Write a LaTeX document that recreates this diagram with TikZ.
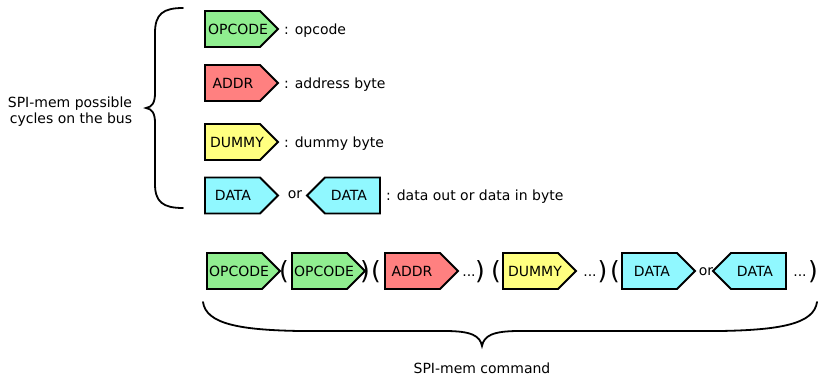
\documentclass[tikz,border=0pt]{standalone}
\usepackage{fontspec}
\setmainfont{DejaVu Sans}
\definecolor{opgreen}{RGB}{144,238,144}
\definecolor{addrred}{RGB}{255,128,128}
\definecolor{dummyyellow}{RGB}{255,255,128}
\definecolor{datacyan}{RGB}{144,248,255}
% right-pointing cell: name, left x, centre y, colour, text, text offset
\newcommand\rcell[6]{%
  \path[boxline,fill=#4] (#2,#3-18) -- (#2+55,#3-18) -- (#2+73,#3) -- (#2+55,#3+18) -- (#2,#3+18) -- cycle;
  \node[boxtext] (#1) at (#2+#6,#3) {#5};}
% left-pointing cell: name, right x, centre y, colour, text, text offset
\newcommand\lcell[6]{%
  \path[boxline,fill=#4] (#2,#3-18) -- (#2-55,#3-18) -- (#2-73,#3) -- (#2-55,#3+18) -- (#2,#3+18) -- cycle;
  \node[boxtext] (#1) at (#2-#6,#3) {#5};}
\begin{document}
\begin{tikzpicture}[x=1pt,y=-1pt,
  boxline/.style={draw=black,line width=1.8pt,line join=miter},
  boxtext/.style={font=\fontsize{14}{16}\selectfont,inner sep=0pt,anchor=center},
  lbl/.style={font=\fontsize{14}{16}\selectfont,inner sep=0pt,anchor=base west},
  ctr/.style={font=\fontsize{14}{16}\selectfont,inner sep=0pt,anchor=base},
  paren/.style={font=\fontsize{25}{30}\selectfont,inner sep=0pt,anchor=center},
  bracepath/.style={draw=black,line width=1.8pt,line cap=round}]
\useasboundingbox (0,0) rectangle (819,375);

% ---- legend ----
\node[ctr] (lbl1) at (70,107) {SPI-mem possible};
\node[ctr] (lbl2) at (71,123.5) {cycles on the bus};
\path[bracepath] (183,8) .. controls (163,8) and (155,14) .. (155,33) -- (155,93)
  .. controls (155,103) and (152,107) .. (146,108)
  .. controls (152,109) and (155,113) .. (155,123) -- (155,184)
  .. controls (155,202) and (163,208) .. (183,208);

\rcell{lop}{205}{29}{opgreen}{OPCODE}{33}
\node[lbl] (lopt) at (284,34) {: opcode};
\rcell{laddr}{205}{83}{addrred}{ADDR}{28}
\node[lbl] (laddrt) at (284,88) {: address byte};
\rcell{ldum}{205}{142}{dummyyellow}{DUMMY}{32}
\node[lbl] (ldumt) at (284,147) {: dummy byte};
\rcell{ldout}{205}{195.5}{datacyan}{DATA}{28}
\node[ctr] (lor) at (295,198) {or};
\lcell{ldin}{380}{195.5}{datacyan}{DATA}{31}
\node[lbl] (ldatat) at (386,200.5) {: data out or data in byte};

% ---- command ----
\rcell{op1}{207}{271}{opgreen}{OPCODE}{32}
\node[paren] (p1) at (284,272) {(};
\rcell{op2}{292}{271}{opgreen}{OPCODE}{32}
\node[paren] (p2) at (365,272) {)};
\node[paren] (p3) at (376,272) {(};
\rcell{addr}{385}{271}{addrred}{ADDR}{27}
\node[ctr] (d1) at (469,276) {...};
\node[paren] (p4) at (480,272) {)};
\node[paren] (p5) at (496,272) {(};
\rcell{dum}{503}{271}{dummyyellow}{DUMMY}{32}
\node[ctr] (d2) at (590,276) {...};
\node[paren] (p6) at (602.5,272) {)};
\node[paren] (p7) at (615,272) {(};
\rcell{dout}{622}{271}{datacyan}{DATA}{30}
\node[ctr] (or2) at (706,275) {or};
\lcell{din}{786}{271}{datacyan}{DATA}{31}
\node[ctr] (d3) at (800,276) {...};
\node[paren] (p8) at (813,272) {)};

\path[bracepath] (203,302) .. controls (206,324) and (240,330) .. (300,331) -- (445,331)
  .. controls (472,331) and (480,336) .. (482,346)
  .. controls (484,336) and (492,331) .. (519,331) -- (720,331)
  .. controls (780,330) and (814,324) .. (817,302);
\node[ctr] (cmd) at (482,373) {SPI-mem command};
\end{tikzpicture}
\end{document}
